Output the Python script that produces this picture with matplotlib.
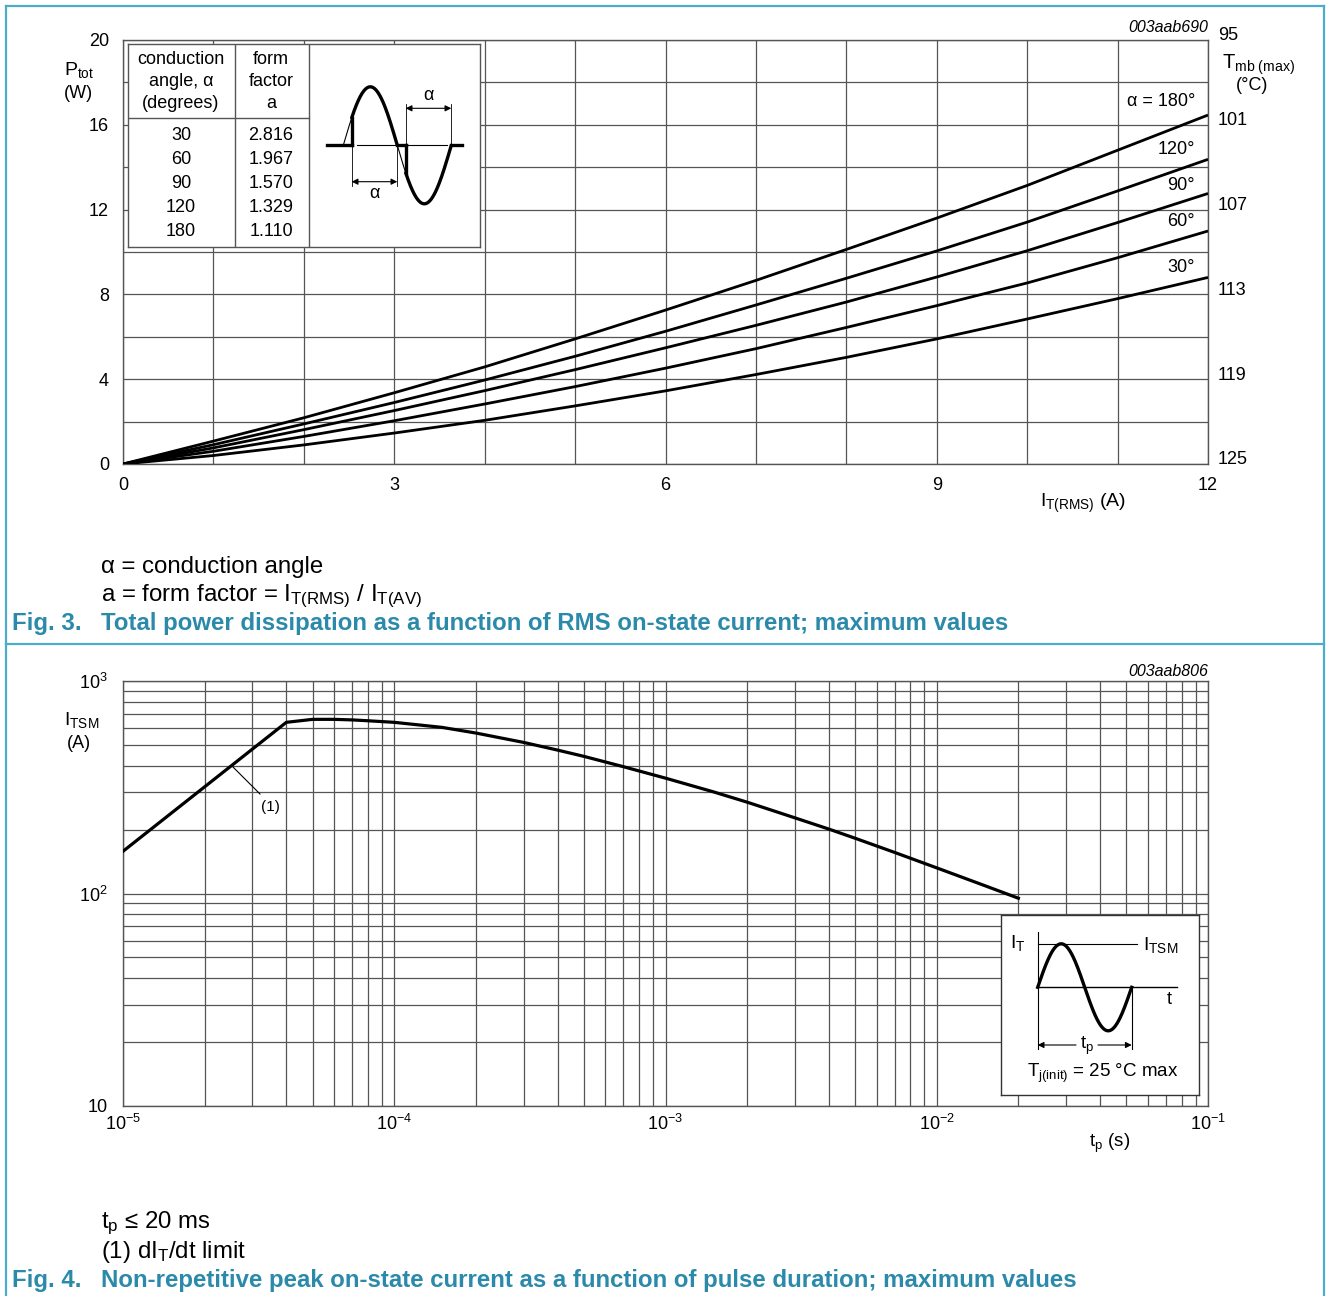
import numpy as np
import matplotlib
matplotlib.use("Agg")
import matplotlib.pyplot as plt
from matplotlib.ticker import FixedLocator, LogLocator, NullFormatter, FixedFormatter
from matplotlib.transforms import ScaledTranslation
from matplotlib.lines import Line2D

plt.rcParams['font.family'] = ['Liberation Sans', 'DejaVu Sans']
plt.rcParams['mathtext.fontset'] = 'custom'
plt.rcParams['mathtext.rm'] = 'Liberation Sans'
plt.rcParams['mathtext.it'] = 'Liberation Sans:italic'
plt.rcParams['mathtext.bf'] = 'Liberation Sans:bold'

# ---------------- data: Fig. 3 ----------------
i_rms = [0, 1, 2, 3, 4, 5, 6, 7, 8, 9, 10, 11, 12]
p_180 = [0, 1.08, 2.18, 3.36, 4.58, 5.9, 7.26, 8.66, 10.12, 11.6, 13.14, 14.8, 16.46]
p_120 = [0, 0.91, 1.89, 2.9, 3.96, 5.08, 6.26, 7.5, 8.76, 10.05, 11.41, 12.88, 14.37]
p_90 = [0, 0.76, 1.62, 2.52, 3.46, 4.45, 5.48, 6.54, 7.64, 8.82, 10.06, 11.39, 12.76]
p_60 = [0, 0.6, 1.3, 2.04, 2.83, 3.65, 4.52, 5.44, 6.44, 7.47, 8.54, 9.73, 10.99]
p_30 = [0, 0.4, 0.9, 1.46, 2.06, 2.74, 3.45, 4.22, 5.03, 5.9, 6.84, 7.8, 8.8]
curve_labels = ['α = 180°', '120°', '90°', '60°', '30°']
cond_angles = ['30', '60', '90', '120', '180']
form_factors = ['2.816', '1.967', '1.570', '1.329', '1.110']
p_ticks = [0, 4, 8, 12, 16, 20]
i_ticks = [0, 3, 6, 9, 12]
tmb_ticks = [95, 101, 107, 113, 119, 125]

# ---------------- data: Fig. 4 ----------------
tp = [1e-5, 4e-5, 5e-5, 6e-5, 7e-5, 8e-5, 1e-4, 1.5e-4, 2e-4, 3e-4, 4e-4, 5e-4, 7e-4,
      1e-3, 1.5e-3, 2e-3, 3e-3, 4e-3, 5e-3, 7e-3, 1e-2, 1.5e-2, 2e-2]
itsm = [158, 639, 660, 660, 656, 650, 639, 605, 569, 514, 473, 442, 395,
        349, 301, 269, 227, 201, 182, 156, 132, 109, 95]

W, H = 1327, 1296
fig = plt.figure(figsize=(W / 100, H / 100), dpi=100)

def fx(px):
    return px / W

def fy(py):
    return 1 - py / H

def rect(x0, y0, x1, y1):
    return [fx(x0), fy(y1), (x1 - x0) / W, (y1 - y0) / H]

TEAL_TXT = '#2b8aaa'
TEAL_LINE = '#4badca'
GRID = '#555555'
FS = 13
FN = 17.3

# panel borders
for seg in [((6, 6), (1324, 6)), ((6, 6), (6, 1296)), ((1324, 6), (1324, 1296)),
            ((6, 644), (1324, 644))]:
    (x0, y0), (x1, y1) = seg
    fig.add_artist(Line2D([fx(x0), fx(x1)], [fy(y0), fy(y1)], color=TEAL_LINE, lw=1.6))

# ================= Fig. 3 =================
ax = fig.add_axes(rect(123, 40, 1208, 464))
for y, lab in zip([p_180, p_120, p_90, p_60, p_30], curve_labels):
    ax.plot(i_rms, y, color='black', lw=2.0, zorder=3, solid_capstyle='butt')
ax.set_xlim(0, 12)
ax.set_ylim(0, 20)
ax.set_xticks(range(13))
ax.set_xticklabels([str(v) if v in i_ticks else '' for v in range(13)])
ax.set_yticks(range(0, 21, 2))
ax.set_yticklabels([str(v) if v in p_ticks else '' for v in range(0, 21, 2)])
ax.grid(True, color=GRID, lw=0.9)
ax.tick_params(length=0, labelsize=FS, pad=9)
ax.tick_params(axis='y', pad=10)
for s in ax.spines.values():
    s.set_color(GRID)
    s.set_linewidth(1.0)

ax2 = ax.twinx()
ax2.set_ylim(125, 95)
ax2.set_yticks(tmb_ticks)
ax2.set_yticklabels([str(t) for t in tmb_ticks])
ax2.tick_params(length=0, labelsize=FS, pad=7)
for s in ax2.spines.values():
    s.set_visible(False)
for lab in ax2.get_yticklabels():
    lab.set_transform(lab.get_transform() + ScaledTranslation(0, 0.06, fig.dpi_scale_trans))

# curve labels
lab_pos = [(1195, 101), (1195, 149), (1195, 185), (1195, 222), (1195, 267)]
for (px, py), lab in zip(lab_pos, curve_labels):
    fig.text(fx(px), fy(py), lab, ha='right', va='center', fontsize=FS)

fig.text(fx(1208), fy(28), '003aab690', ha='right', va='center', fontsize=11.5, style='italic')
fig.text(fx(79), fy(70), r'P$_{\mathrm{tot}}$', ha='center', va='center', fontsize=FS + 1)
fig.text(fx(78), fy(94), '(W)', ha='center', va='center', fontsize=FS)
fig.text(fx(1222), fy(65), r'T$_{\mathrm{mb\ (max)}}$', ha='left', va='center', fontsize=FS + 1.5)
fig.text(fx(1252), fy(86), '(°C)', ha='center', va='center', fontsize=FS)
fig.text(fx(1083), fy(503), r'I$_{\mathrm{T(RMS)}}$ (A)', ha='center', va='center', fontsize=FS + 1)

# table inset (pixel coordinates)
tab = fig.add_axes(rect(128, 44, 480, 247), zorder=5)
tab.set_xlim(128, 480)
tab.set_ylim(247, 44)
tab.set_xticks([])
tab.set_yticks([])
for s in tab.spines.values():
    s.set_color(GRID)
    s.set_linewidth(1.0)
tab.plot([235, 235], [44, 247], color=GRID, lw=1.0)
tab.plot([309, 309], [44, 247], color=GRID, lw=1.0)
tab.plot([128, 309], [118, 118], color=GRID, lw=1.0)
for txt, yy in zip(['conduction', 'angle, α', '(degrees)'], [59, 82, 103]):
    tab.text(181, yy, txt, ha='center', va='center', fontsize=FS)
for txt, yy in zip(['form', 'factor', 'a'], [59, 82, 103]):
    tab.text(271, yy, txt, ha='center', va='center', fontsize=FS)
row_y = [136, 160, 184, 208, 232]
for a_, f_, yy in zip(cond_angles, form_factors, row_y):
    tab.text(181, yy, a_, ha='center', va='center', fontsize=FS)
    tab.text(271, yy, f_, ha='center', va='center', fontsize=FS)

# waveform sketch
x0w, half, amp, base = 343.3, 54.0, 58.5, 145.3
fire = 28.0
ph = np.linspace(0, 360, 361)
tab.plot(x0w + ph / 180 * half, base - amp * np.sin(np.radians(ph)), color='black', lw=0.8)
for start in (fire, 180 + fire):
    end = start - fire + 180
    p2 = np.linspace(start, end, 200)
    tab.plot(x0w + p2 / 180 * half, base - amp * np.sin(np.radians(p2)), color='black', lw=2.4,
             solid_capstyle='round')
    xs = x0w + start / 180 * half
    tab.plot([xs, xs], [base, base - amp * np.sin(np.radians(start))], color='black', lw=2.4)
xf1 = x0w + fire / 180 * half
xz = x0w + half
xf2 = x0w + (180 + fire) / 180 * half
xe = x0w + 2 * half
tab.plot([326.7, xf1], [base, base], color='black', lw=2.4)
tab.plot([xz, xf2], [base, base], color='black', lw=2.4)
tab.plot([xe, 462], [base, base], color='black', lw=2.4)
tab.plot([357, 446.7], [base, base], color='black', lw=0.8)
# dimension lines
tab.plot([xf1, xf1], [base, 186], color='black', lw=0.6)
tab.plot([xz, xz], [base, 186], color='black', lw=0.6)
tab.annotate('', xy=(xf1, 181.7), xytext=(xz, 181.7),
             arrowprops=dict(arrowstyle='<|-|>', color='black', lw=0.8, mutation_scale=9,
                             shrinkA=0, shrinkB=0))
tab.text((xf1 + xz) / 2, 193, 'α', ha='center', va='center', fontsize=FS)
tab.plot([xf2, xf2], [104, base], color='black', lw=0.6)
tab.plot([xe, xe], [104, base], color='black', lw=0.6)
tab.annotate('', xy=(xf2, 108.3), xytext=(xe, 108.3),
             arrowprops=dict(arrowstyle='<|-|>', color='black', lw=0.8, mutation_scale=9,
                             shrinkA=0, shrinkB=0))
tab.text((xf2 + xe) / 2, 95, 'α', ha='center', va='center', fontsize=FS)

# notes and caption for Fig. 3
fig.text(fx(101), fy(567), 'α = conduction angle', ha='left', va='center', fontsize=FN)
fig.text(fx(101), fy(596), r'a = form factor = I$_{\mathrm{T(RMS)}}$ / I$_{\mathrm{T(AV)}}$',
         ha='left', va='center', fontsize=FN)
fig.text(fx(12), fy(624), 'Fig. 3.', ha='left', va='center', fontsize=FN,
         fontweight='bold', color=TEAL_TXT)
fig.text(fx(101), fy(624), 'Total power dissipation as a function of RMS on-state current; maximum values',
         ha='left', va='center', fontsize=FN, fontweight='bold', color=TEAL_TXT)

# ================= Fig. 4 =================
bx = fig.add_axes(rect(123, 681, 1208, 1106))
bx.plot(tp, itsm, color='black', lw=2.3, zorder=3)
bx.set_xscale('log')
bx.set_yscale('log')
bx.set_xlim(1e-5, 1e-1)
bx.set_ylim(10, 1000)
bx.xaxis.set_major_locator(FixedLocator([1e-5, 1e-4, 1e-3, 1e-2, 1e-1]))
bx.xaxis.set_major_formatter(FixedFormatter([r'$\mathregular{10^{-5}}$', r'$\mathregular{10^{-4}}$',
                                             r'$\mathregular{10^{-3}}$', r'$\mathregular{10^{-2}}$',
                                             r'$\mathregular{10^{-1}}$']))
bx.xaxis.set_minor_locator(LogLocator(base=10, subs=np.arange(2, 10)))
bx.xaxis.set_minor_formatter(NullFormatter())
bx.yaxis.set_major_locator(FixedLocator([10, 100, 1000]))
bx.yaxis.set_major_formatter(FixedFormatter(['10', r'$\mathregular{10^{2}}$', r'$\mathregular{10^{3}}$']))
bx.yaxis.set_minor_locator(LogLocator(base=10, subs=np.arange(2, 10)))
bx.yaxis.set_minor_formatter(NullFormatter())
bx.grid(True, which='both', color=GRID, lw=0.9)
bx.tick_params(which='both', length=0, labelsize=FS)
bx.tick_params(axis='x', pad=6)
bx.tick_params(axis='y', pad=11)
for s in bx.spines.values():
    s.set_color(GRID)
    s.set_linewidth(1.0)

# annotation (1)
fig.add_artist(Line2D([fx(233), fx(260)], [fy(767), fy(794)], color='black', lw=0.8))
fig.text(fx(270), fy(807), '(1)', ha='center', va='center', fontsize=11)

fig.text(fx(1208), fy(671), '003aab806', ha='right', va='center', fontsize=11.5, style='italic')
fig.text(fx(82), fy(720), r'I$_{\mathrm{TSM}}$', ha='center', va='center', fontsize=FS + 1)
fig.text(fx(79), fy(744), '(A)', ha='center', va='center', fontsize=FS)
fig.text(fx(1110), fy(1143), r't$_{\mathrm{p}}$ (s)', ha='center', va='center', fontsize=FS + 0.5)

# waveform inset
ins = fig.add_axes(rect(1001, 915, 1199, 1095), zorder=5)
ins.set_xlim(1001, 1199)
ins.set_ylim(1095, 915)
ins.set_xticks([])
ins.set_yticks([])
for s in ins.spines.values():
    s.set_color('#333333')
    s.set_linewidth(1.0)
xa, per, base2, amp2 = 1037.7, 94.0, 987.3, 43.5
ins.plot([xa, xa], [931.7, 1049], color='black', lw=0.8)
ins.plot([xa, 1176.7], [base2, base2], color='black', lw=1.0)
ins.plot([xa, 1136.7], [base2 - amp2, base2 - amp2], color='black', lw=0.8)
ph2 = np.linspace(0, 360, 361)
ins.plot(xa + ph2 / 360 * per, base2 - amp2 * np.sin(np.radians(ph2)), color='black', lw=2.4)
ins.plot([xa + per, xa + per], [base2, 1049], color='black', lw=0.8)
ins.annotate('', xy=(xa, 1045), xytext=(1076, 1045),
             arrowprops=dict(arrowstyle='-|>', color='black', lw=0.8, mutation_scale=9,
                             shrinkA=0, shrinkB=0))
ins.annotate('', xy=(xa + per, 1045), xytext=(1098, 1045),
             arrowprops=dict(arrowstyle='-|>', color='black', lw=0.8, mutation_scale=9,
                             shrinkA=0, shrinkB=0))
ins.text(1087, 1046, r't$_{\mathrm{p}}$', ha='center', va='center', fontsize=FS + 0.5)
ins.text(1018, 943, r'I$_{\mathrm{T}}$', ha='center', va='center', fontsize=FS + 1)
ins.text(1161, 945, r'I$_{\mathrm{TSM}}$', ha='center', va='center', fontsize=FS + 1)
ins.text(1169, 1000, 't', ha='center', va='center', fontsize=FS)
ins.text(1103, 1073, r'T$_{\mathrm{j(init)}}$ = 25 °C max', ha='center', va='center', fontsize=FS + 0.5)

# notes and caption for Fig. 4
fig.text(fx(101), fy(1223), r't$_{\mathrm{p}}$ ≤ 20 ms', ha='left', va='center', fontsize=FN)
fig.text(fx(101), fy(1252), r'(1) dI$_{\mathrm{T}}$/dt limit', ha='left', va='center', fontsize=FN)
fig.text(fx(12), fy(1280), 'Fig. 4.', ha='left', va='center', fontsize=FN,
         fontweight='bold', color=TEAL_TXT)
fig.text(fx(101), fy(1280), 'Non-repetitive peak on-state current as a function of pulse duration; maximum values',
         ha='left', va='center', fontsize=FN, fontweight='bold', color=TEAL_TXT)

fig.savefig('out.png', dpi=100)
